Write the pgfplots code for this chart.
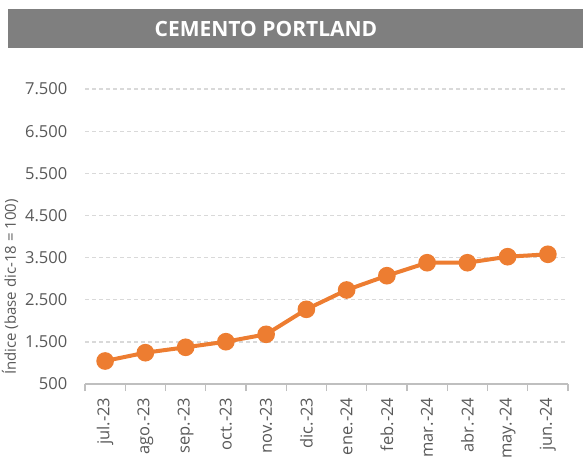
\documentclass[border=0pt]{standalone}
\usepackage{pgfplots}
\pgfplotsset{compat=1.18}
\usepackage{fontspec}
\setmainfont{Open Sans}
\definecolor{titlebar}{HTML}{7F7F7F}
\definecolor{ticktext}{HTML}{595959}
\definecolor{gridc}{HTML}{D9D9D9}
\definecolor{axisc}{HTML}{BFBFBF}
\definecolor{orange}{HTML}{ED7D31}

\pgfplotstableread{
idx value
0  1046
1  1243
2  1371
3  1504
4  1679
5  2272
6  2731
7  3070
8  3378
9  3378
10 3521
11 3578
}\cement

\begin{document}
\begin{tikzpicture}[x=1pt,y=1pt]
% title band
\fill[titlebar] (8,411) rectangle (583,450);
\node[white, font=\fontsize{21}{24}\selectfont\bfseries] at (266,430.5) {CEMENTO PORTLAND};

\begin{axis}[
  at={(85pt,75pt)}, anchor=south west,
  scale only axis,
  width=483pt, height=295pt,
  xmin=-0.5, xmax=11.5,
  ymin=500, ymax=7500,
  clip=false,
  axis x line*=bottom, axis y line*=left,
  x axis line style={axisc, line width=1.2pt, -},
  y axis line style={draw=none},
  xtick={0,...,11},
  xticklabels={jul.-23,ago.-23,sep.-23,oct.-23,nov.-23,dic.-23,ene.-24,feb.-24,mar.-24,abr.-24,may.-24,jun.-24},
  major x tick style={draw=none},
  minor xtick={-0.5,0.5,...,11.5},
  minor x tick style={axisc, line width=1.2pt},
  minor tick length=7pt,
  tick align=outside,
  xticklabel style={rotate=90, anchor=east},
  xticklabel shift=6pt,
  ytick={500,1500,...,7500},
  ytick style={draw=none},
  yticklabel shift=10pt,
  ymajorgrids=true,
  grid style={gridc, line width=1.3pt, dash pattern=on 4pt off 3pt},
  tick label style={text=ticktext, font=\fontsize{16.5}{18}\selectfont},
  yticklabel={\pgfmathprintnumber[assume math mode=true,1000 sep={.}]{\tick}},
]
\addplot[orange, line width=4pt, mark=*, mark size=6.8pt, mark options={fill=orange, draw=none}]
  table[x=idx, y=value] {\cement};
\end{axis}

% y-axis title
\node[ticktext, rotate=90, font=\fontsize{15}{17}\selectfont] at (10,172) {Índice (base dic-18 = 100)};

\pgfresetboundingbox
\useasboundingbox (0,0) rectangle (583,459);
\end{tikzpicture}
\end{document}
